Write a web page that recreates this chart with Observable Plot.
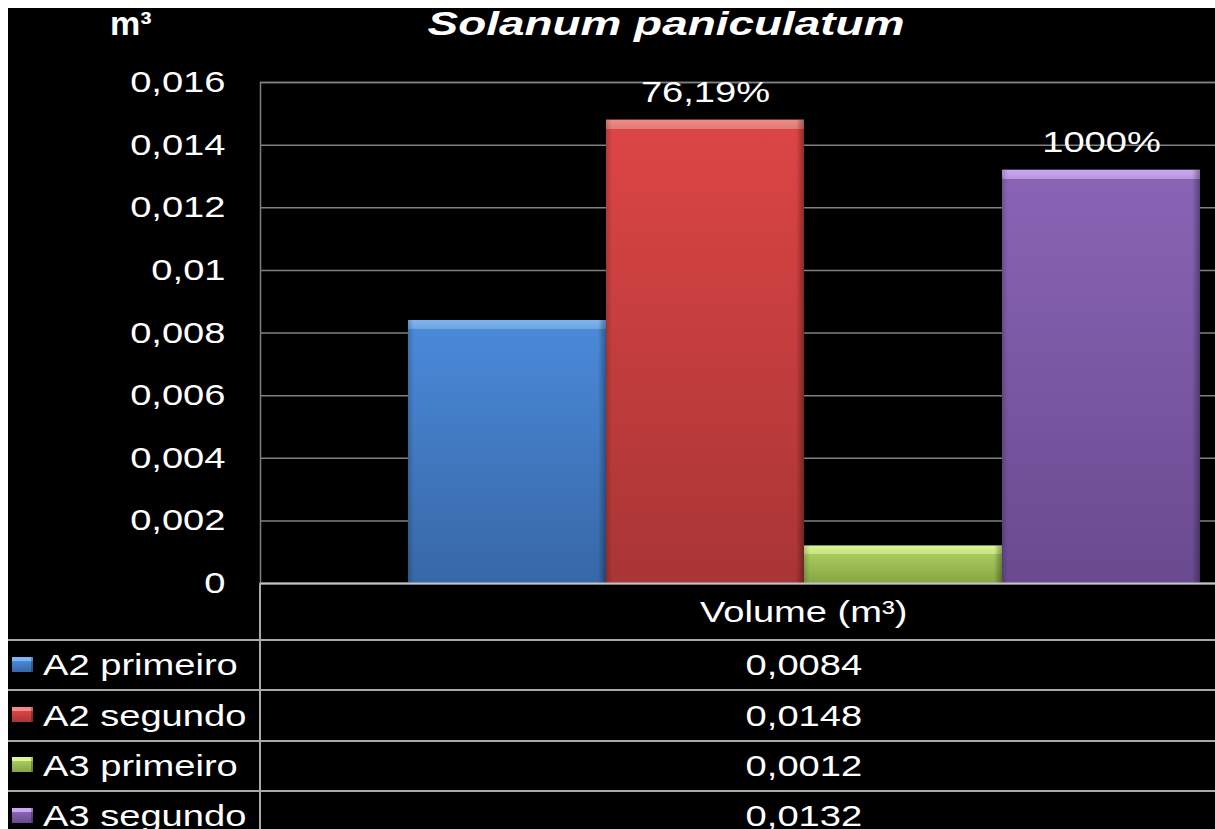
<!DOCTYPE html>
<html><head><meta charset="utf-8">
<script src="https://cdn.jsdelivr.net/npm/d3@7"></script>
<script src="https://cdn.jsdelivr.net/npm/@observablehq/plot@0.6"></script>
<style>
html,body{margin:0;padding:0;background:#fff;width:1215px;height:829px;overflow:hidden;}
#wrap{position:absolute;left:0;top:0;width:1215px;height:829px;background:#000;overflow:hidden;font-family:"Liberation Sans",Arial,sans-serif;color:#fff;}
.abs{position:absolute;}
.st{display:inline-block;white-space:nowrap;}
.hline{position:absolute;left:8px;width:1207px;height:2px;background:#a9a9a9;}
.row{position:absolute;display:flex;align-items:center;font-size:30px;}
.strip{position:absolute;background:#fff;}
</style></head><body>
<div id="wrap"></div>
<script>
// ---- data ----
const title = "Solanum paniculatum";
const unitLabel = "m³";
const categoryLabel = "Volume (m³)";
const series = ["A2 primeiro", "A2 segundo", "A3 primeiro", "A3 segundo"];
const values = [0.0084, 0.0148, 0.0012, 0.0132];
const valueLabels = ["0,0084", "0,0148", "0,0012", "0,0132"];
const barLabels = ["", "76,19%", "", "1000%"];
const yTicks = [0, 0.002, 0.004, 0.006, 0.008, 0.01, 0.012, 0.014, 0.016];

// ---- styles ----
const palette = [
  {hi: "#7db6f4", top: "#4a89d8", bot: "#3767a6"},
  {hi: "#f48a86", top: "#dc4545", bot: "#a93535"},
  {hi: "#ddf890", top: "#a6ca5d", bot: "#87a545"},
  {hi: "#cba8f2", top: "#8964b5", bot: "#6a4a8f"}
];
const STRETCH = 1.27;

const rows = series.map((s, i) => ({serie: s, value: values[i], label: barLabels[i]}));
const wrap = document.getElementById("wrap");

// white page border (top and left) of the reference
const s1 = document.createElement("div"); s1.className = "strip";
s1.style.cssText += "left:0;top:0;width:1215px;height:8px;";
const s2 = document.createElement("div"); s2.className = "strip";
s2.style.cssText += "left:0;top:0;width:8px;height:829px;";
wrap.appendChild(s1); wrap.appendChild(s2);

// ---- header (title + unit) ----
const unit = document.createElement("div");
unit.className = "abs";
unit.style.cssText = "left:110px;top:9px;font-size:34px;font-weight:bold;line-height:28px;";
unit.textContent = unitLabel;
wrap.appendChild(unit);

const ttl = document.createElement("div");
ttl.className = "abs";
ttl.style.cssText = "left:666px;top:9px;font-size:34px;font-weight:bold;font-style:italic;line-height:28px;white-space:nowrap;transform:translateX(-50%) scaleX(1.35);";
ttl.textContent = title;
wrap.appendChild(ttl);

// ---- chart ----
const chart = Plot.plot({
  width: 1230,
  height: 534,
  marginTop: 32,
  marginBottom: 1,
  marginLeft: 252,
  marginRight: 0,
  style: {background: "#000", color: "#fff", fontFamily: "'Liberation Sans', Arial, sans-serif", fontSize: "30px", overflow: "visible", maxWidth: "none"},
  x: {type: "band", domain: series, range: [399, 1193], padding: 0, axis: null},
  y: {domain: [0, 0.016], ticks: yTicks, axis: null},
  marks: [
    Plot.frame({stroke: "#808080", strokeWidth: 1.5}),
    Plot.gridY(yTicks, {stroke: "#808080", strokeOpacity: 1, strokeWidth: 1.5}),
    Plot.axisY(yTicks, {tickSize: 0, tickPadding: 35, fill: "#fff",
      tickFormat: d => String(d).replace(".", ","), label: null}),
    ...rows.map((r, i) => Plot.barY([r], {x: "serie", y: "value", fill: `url(#bar${i})`})),
    Plot.barY(rows, {x: "serie", y: "value", fill: "url(#edge)"}),
    Plot.ruleY([0], {stroke: "#c4c4c4", strokeWidth: 2}),
    Plot.text(rows, {x: "serie", y: "value", text: "label", dy: -18, lineAnchor: "bottom", fill: "#fff", fontSize: 30})
  ]
});
chart.style.position = "absolute";
chart.style.left = "8px";
chart.style.top = "50px";
chart.style.maxWidth = "none";
wrap.appendChild(chart);

// gradients
const ys = chart.scale("y");
const svg = d3.select(chart);
const defs = svg.insert("defs", ":first-child");
rows.forEach((r, i) => {
  const h = ys.apply(0) - ys.apply(r.value);
  const k = Math.min(0.45, 9 / h);
  const g = defs.append("linearGradient").attr("id", `bar${i}`).attr("x1", 0).attr("y1", 0).attr("x2", 0).attr("y2", 1);
  const p = palette[i];
  g.append("stop").attr("offset", 0).attr("stop-color", p.hi);
  g.append("stop").attr("offset", k).attr("stop-color", p.hi).attr("stop-opacity", 0.9);
  g.append("stop").attr("offset", k).attr("stop-color", p.top);
  g.append("stop").attr("offset", 1).attr("stop-color", p.bot);
});
const e = defs.append("linearGradient").attr("id", "edge").attr("x1", 0).attr("y1", 0).attr("x2", 1).attr("y2", 0);
e.append("stop").attr("offset", 0).attr("stop-color", "#000").attr("stop-opacity", 0.18);
e.append("stop").attr("offset", 0.03).attr("stop-color", "#000").attr("stop-opacity", 0);
e.append("stop").attr("offset", 0.96).attr("stop-color", "#000").attr("stop-opacity", 0);
e.append("stop").attr("offset", 1).attr("stop-color", "#000").attr("stop-opacity", 0.35);

// stretch svg text horizontally like the reference
chart.querySelectorAll("text").forEach(t => {
  const L = t.getComputedTextLength();
  if (L > 0) { t.setAttribute("textLength", L * STRETCH); t.setAttribute("lengthAdjust", "spacingAndGlyphs"); }
});

// ---- data table (legend) ----
const tableTop = 583;          // just under the baseline
const headerH = 57;
const rowH = 50.4;
const colX = 260;
const colCenter = 804;

const vline = document.createElement("div");
vline.className = "abs";
vline.style.cssText = `left:${colX - 1}px;top:${tableTop}px;width:2px;height:260px;background:#a9a9a9;`;
wrap.appendChild(vline);

function stretched(text, origin) {
  const s = document.createElement("span");
  s.className = "st";
  s.textContent = text;
  s.style.transform = `scaleX(${STRETCH})`;
  s.style.transformOrigin = origin;
  return s;
}

const head = document.createElement("div");
head.className = "row";
head.style.cssText += `left:${colCenter - 200}px;width:400px;top:${tableTop}px;height:${headerH}px;justify-content:center;`;
head.appendChild(stretched(categoryLabel, "center"));
wrap.appendChild(head);

series.forEach((s, i) => {
  const top = tableTop + headerH + i * rowH;
  const ln = document.createElement("div");
  ln.className = "hline";
  ln.style.top = (Math.round(top) - 1) + "px";
  wrap.appendChild(ln);

  const p = palette[i];
  const lg = document.createElement("div");
  lg.className = "row";
  lg.style.cssText += `left:12px;width:240px;top:${top}px;height:${rowH}px;`;
  const key = document.createElement("span");
  key.style.cssText = `display:inline-block;width:21px;height:15px;margin-right:10px;margin-top:-2px;background:linear-gradient(${p.hi} 0 4px, ${p.top} 4px, ${p.bot});box-shadow:inset -2px 0 0 rgba(0,0,0,0.25);`;
  lg.appendChild(key);
  lg.appendChild(stretched(s, "left"));
  wrap.appendChild(lg);

  const vc = document.createElement("div");
  vc.className = "row";
  vc.style.cssText += `left:${colCenter - 200}px;width:400px;top:${top}px;height:${rowH}px;justify-content:center;`;
  vc.appendChild(stretched(valueLabels[i], "center"));
  wrap.appendChild(vc);
});
</script>
</body></html>
